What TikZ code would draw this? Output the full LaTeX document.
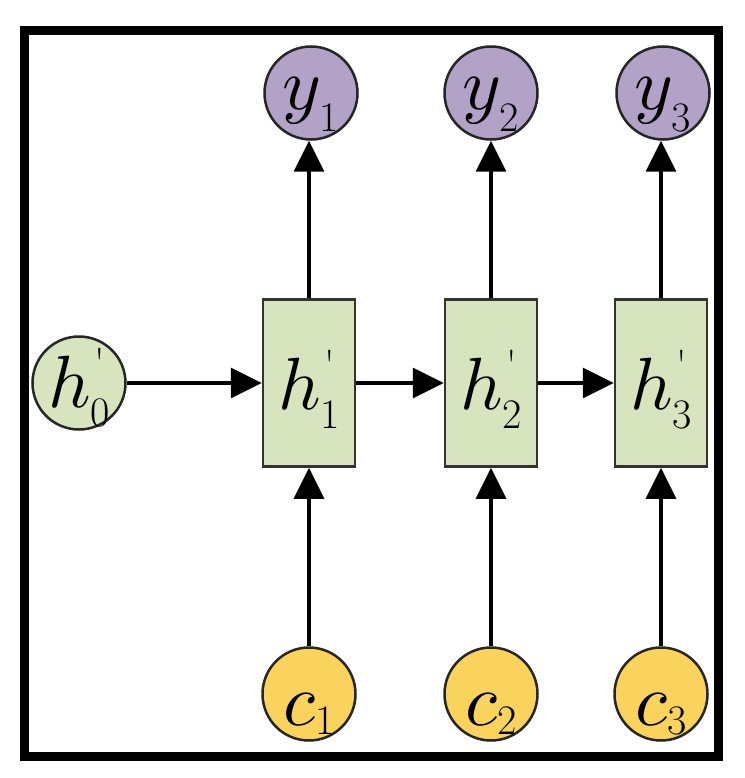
\documentclass[tikz,border=0pt]{standalone}
\usepackage{fontspec}
\usetikzlibrary{arrows.meta}
\definecolor{gfill}{HTML}{D7E4BD}
\definecolor{pfill}{HTML}{B3A2C7}
\definecolor{yfill}{HTML}{F9D35B}
\newcommand{\mathbig}[1]{\scalebox{7.4}{$#1$}}
\newcommand{\subsz}{\fontsize{42}{42}\selectfont}
\newcommand{\hlab}[1]{\mathbig{h}\rlap{\kern4pt\raisebox{30pt}{\subsz\textquotesingle}}\raisebox{-19pt}{\subsz #1}}
\newcommand{\ylab}[1]{\mathbig{y}\kern-2pt\raisebox{-22pt}{\subsz #1}}
\newcommand{\clab}[1]{\mathbig{c}\kern0pt\raisebox{-9pt}{\subsz #1}}
\tikzset{
  circ/.style={circle, draw=black!85, line width=2.5pt, minimum size=93pt, inner sep=0pt, text depth=0pt},
  hbox/.style={rectangle, draw=black!80, line width=2.5pt, fill=gfill, minimum width=92pt, minimum height=167pt, inner sep=0pt, text height=52pt, text depth=0pt},
  conn/.style={line width=3.5pt, -{Triangle[length=31pt,width=30pt]}},
  frameline/.style={line width=9pt}
}
\begin{document}
\begin{tikzpicture}[x=1pt,y=-1pt]
\fill[white] (0,0) rectangle (744,778);
\useasboundingbox (0,0) rectangle (744,778);
\draw[frameline] (24,31) rectangle (718,756);
% hidden state boxes
\node[hbox] (h1) at (309,383) {\hlab{1}};
\node[hbox] (h2) at (491,383) {\hlab{2}};
\node[hbox] (h3) at (661,383) {\hlab{3}};
% initial state
\node[circ, fill=gfill, text height=48pt] (h0) at (79,383) {\hlab{0}};
% outputs
\node[circ, fill=pfill, text height=34pt] (y1) at (311,93) {\ylab{1}};
\node[circ, fill=pfill, text height=34pt] (y2) at (491,93) {\ylab{2}};
\node[circ, fill=pfill, text height=34pt] (y3) at (663,93) {\ylab{3}};
% inputs
\node[circ, fill=yfill, text height=62pt] (c1) at (309,694) {\clab{1}};
\node[circ, fill=yfill, text height=62pt] (c2) at (491,694) {\clab{2}};
\node[circ, fill=yfill, text height=62pt] (c3) at (661,694) {\clab{3}};
% connectors
\draw[conn] (h0) -- (h1);
\draw[conn] (h1) -- (h2);
\draw[conn] (h2) -- (h3);
\draw[conn] (h1.north) -- (h1.north |- y1.south);
\draw[conn] (h2.north) -- (h2.north |- y2.south);
\draw[conn] (h3.north) -- (h3.north |- y3.south);
\draw[conn] (c1) -- (h1);
\draw[conn] (c2) -- (h2);
\draw[conn] (c3) -- (h3);
\end{tikzpicture}
\end{document}
